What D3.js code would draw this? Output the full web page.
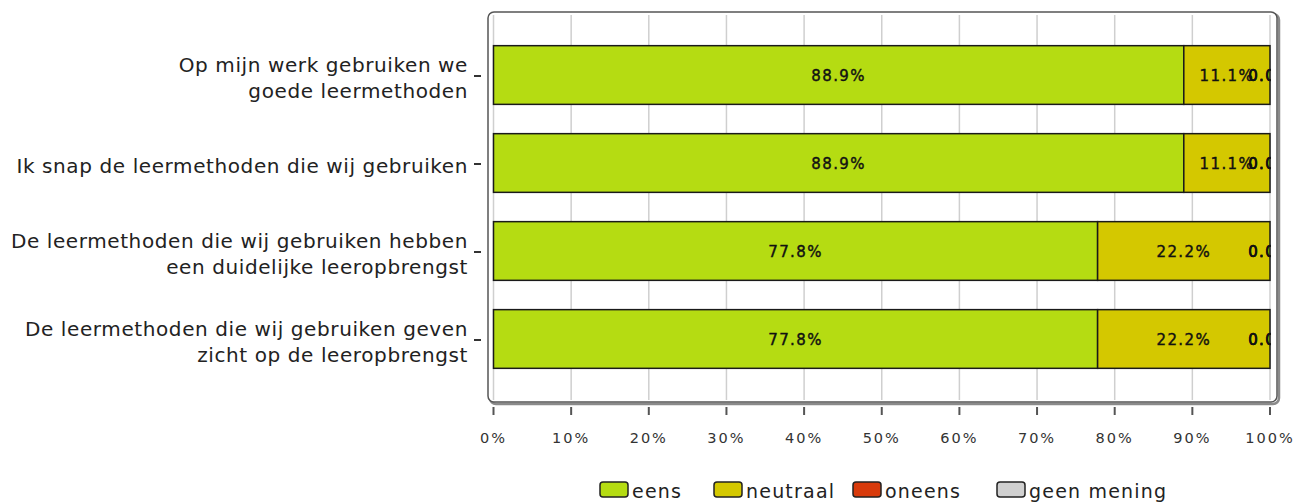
<!DOCTYPE html>
<html lang="en">
<head>
<meta charset="UTF-8">
<title>Leermethoden</title>
<style>
  body { margin: 0; background: #fff; }
  text { font-family: "DejaVu Sans", sans-serif; }
</style>
</head>
<body>
<script src="https://d3js.org/d3.v7.min.js"></script>
<script>

  // data
  var categories = [
    "Op mijn werk gebruiken we\ngoede leermethoden",
    "Ik snap de leermethoden die wij gebruiken",
    "De leermethoden die wij gebruiken hebben\neen duidelijke leeropbrengst",
    "De leermethoden die wij gebruiken geven\nzicht op de leeropbrengst"
  ];
  var seriesNames = ["eens", "neutraal", "oneens", "geen mening"];
  var eens = [88.9, 88.9, 77.8, 77.8];
  var neutraal = [11.1, 11.1, 22.2, 22.2];
  var oneens = [0.0, 0.0, 0.0, 0.0];
  var geenMening = [0.0, 0.0, 0.0, 0.0];
  var xTicks = [0, 10, 20, 30, 40, 50, 60, 70, 80, 90, 100];

  var colors = ["#b5dc12", "#d4c800", "#d83a0b", "#d0d0d0"];

  // build rows for d3.stack
  var rows = categories.map(function(c, i) {
    return { cat: c, "eens": eens[i], "neutraal": neutraal[i], "oneens": oneens[i], "geen mening": geenMening[i] };
  });

  var width = 1296, height = 502;
  var svg = d3.select("body").append("svg")
      .attr("width", width)
      .attr("height", height);

  // frame of the plot area
  var frame = {left: 488, top: 12, right: 1277, bottom: 402};

  var x = d3.scaleLinear().domain([0, 100]).range([493.5, 1270]);
  var y = d3.scaleBand()
      .domain(categories)
      .range([14, 400])
      .paddingInner(0.333)
      .paddingOuter(0.36);

  svg.append("defs").append("clipPath").attr("id", "plotclip")
    .append("rect")
      .attr("x", x(0)).attr("y", frame.top)
      .attr("width", x(100) - x(0) + 1).attr("height", frame.bottom - frame.top);

  // frame shadow + frame
  svg.append("rect")
      .attr("x", frame.left + 2).attr("y", frame.top + 2)
      .attr("width", frame.right - frame.left).attr("height", frame.bottom - frame.top)
      .attr("rx", 6)
      .attr("fill", "none").attr("stroke", "#8a8a8a").attr("stroke-width", 2.5);
  svg.append("rect")
      .attr("x", frame.left).attr("y", frame.top)
      .attr("width", frame.right - frame.left).attr("height", frame.bottom - frame.top)
      .attr("rx", 6)
      .attr("fill", "#fff").attr("stroke", "#555").attr("stroke-width", 1.5);

  // vertical grid
  svg.append("g").selectAll("line")
      .data(xTicks)
      .enter().append("line")
      .attr("x1", function(d) { return x(d); })
      .attr("x2", function(d) { return x(d); })
      .attr("y1", frame.top + 3)
      .attr("y2", frame.bottom - 2)
      .attr("stroke", "#cfcfcf")
      .attr("stroke-width", 1.5);

  var stack = d3.stack().keys(seriesNames);
  var layers = stack(rows);

  // bars
  var g = svg.append("g");
  g.selectAll(".layer")
      .data(layers)
      .enter().append("g")
      .attr("class", "layer")
      .attr("fill", function(d, i) { return colors[i]; })
    .selectAll("rect")
      .data(function(d) { return d; })
      .enter().append("rect")
      .attr("x", function(d) { return x(d[0]); })
      .attr("y", function(d) { return y(d.data.cat); })
      .attr("width", function(d) { return x(d[1]) - x(d[0]); })
      .attr("height", y.bandwidth())
      .attr("stroke", "#1a1a1a")
      .attr("stroke-width", 1.5);

  // value labels (clipped at the plot edge, like the original)
  var lab = svg.append("g").attr("clip-path", "url(#plotclip)");
  layers.forEach(function(layer) {
    lab.selectAll(null)
        .data(layer)
        .enter().append("text")
        .attr("x", function(d) { return x((d[0] + d[1]) / 2); })
        .attr("y", function(d) { return y(d.data.cat) + y.bandwidth() / 2 + 6; })
        .attr("text-anchor", "middle")
        .attr("font-size", "15px")
        .attr("letter-spacing", "1.4px")
        .attr("fill", "#111")
        .attr("stroke", "#111")
        .attr("stroke-width", 0.4)
        .text(function(d) { return (d[1] - d[0]).toFixed(1) + "%"; });
  });

  // x axis ticks + labels
  var xa = svg.append("g");
  xa.selectAll("line")
      .data(xTicks)
      .enter().append("line")
      .attr("x1", function(d) { return x(d); })
      .attr("x2", function(d) { return x(d); })
      .attr("y1", 407).attr("y2", 415)
      .attr("stroke", "#555").attr("stroke-width", 2);
  xa.selectAll("text")
      .data(xTicks)
      .enter().append("text")
      .attr("x", function(d) { return x(d); })
      .attr("y", 443)
      .attr("text-anchor", "middle")
      .attr("font-size", "14.5px")
      .attr("letter-spacing", "2px")
      .attr("fill", "#333")
      .text(function(d) { return d + "%"; });

  // y axis ticks + labels
  var ya = svg.append("g");
  ya.selectAll("line")
      .data(categories)
      .enter().append("line")
      .attr("x1", 474).attr("x2", 481)
      .attr("y1", function(d) { return y(d) + y.bandwidth() / 2 + 1; })
      .attr("y2", function(d) { return y(d) + y.bandwidth() / 2 + 1; })
      .attr("stroke", "#333").attr("stroke-width", 2);
  ya.selectAll("text")
      .data(categories)
      .enter().append("text")
      .attr("text-anchor", "end")
      .attr("font-size", "20px")
      .attr("letter-spacing", "0.6px")
      .attr("fill", "#222")
      .each(function(d) {
        var lines = d.split("\n");
        var cy = y(d) + y.bandwidth() / 2;
        var t = d3.select(this);
        lines.forEach(function(line, i) {
          t.append("tspan")
              .attr("x", 468)
              .attr("y", cy + (i - (lines.length - 1) / 2) * 26 + 10)
              .text(line);
        });
      });

  // legend
  var legendX = [600, 714, 853, 997];
  var leg = svg.append("g");
  var items = leg.selectAll("g")
      .data(seriesNames)
      .enter().append("g")
      .attr("transform", function(d, i) { return "translate(" + legendX[i] + ",482)"; });
  items.append("rect")
      .attr("width", 28).attr("height", 15).attr("rx", 3)
      .attr("fill", function(d, i) { return colors[i]; })
      .attr("stroke", "#222").attr("stroke-width", 1.5);
  items.append("text")
      .attr("x", 32).attr("y", 16)
      .attr("font-size", "19px")
      .attr("letter-spacing", "1.2px")
      .attr("fill", "#222")
      .text(function(d) { return d; });

</script>
</body>
</html>
